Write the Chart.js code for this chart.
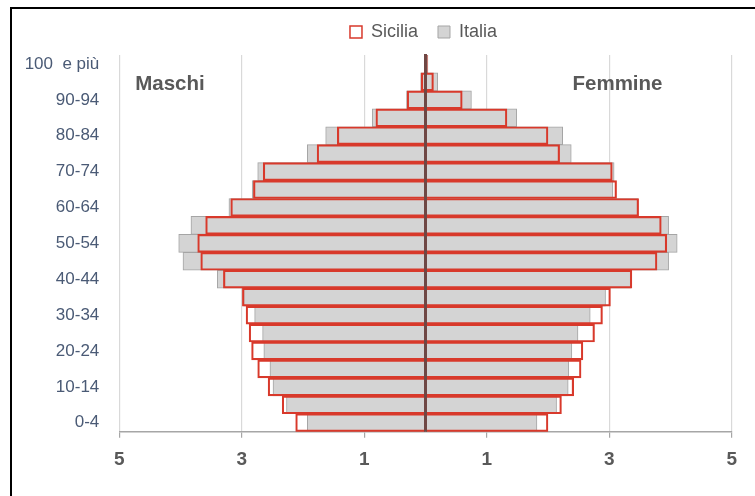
<!DOCTYPE html>
<html>
<head>
<meta charset="utf-8">
<script src="https://cdn.jsdelivr.net/npm/chart.js@4.4.1/dist/chart.umd.min.js"></script>
<style>
  html, body { margin: 0; padding: 0; background: #ffffff; overflow: hidden; }
  #wrap { position: relative; width: 755px; height: 496px; }
  #frame { position: absolute; left: 10px; top: 7px; width: 900px; height: 700px;
           border-left: 2.5px solid #000; border-top: 2px solid #000; pointer-events: none; }
  canvas { position: absolute; left: 0; top: 0; }
</style>
</head>
<body>
<div id="wrap">
  <canvas id="c" width="755" height="496"></canvas>
  <div id="frame"></div>
</div>
<script>
// Age classes, bottom to top
const ages = ['0-4','5-9','10-14','15-19','20-24','25-29','30-34','35-39','40-44','45-49',
              '50-54','55-59','60-64','65-69','70-74','75-79','80-84','85-89','90-94','95-99','100  e più'];

// Percent of population by class (magnitudes)
const siciliaMaschi  = [2.12,2.34,2.57,2.74,2.84,2.88,2.93,2.99,3.30,3.67,3.72,3.59,3.18,2.81,2.65,1.77,1.44,0.81,0.30,0.07,0.01];
const italiaMaschi   = [1.93,2.27,2.49,2.54,2.64,2.66,2.79,2.97,3.40,3.96,4.03,3.83,3.21,2.83,2.74,1.93,1.63,0.87,0.31,0.08,0.01];
const siciliaFemmine = [2.00,2.22,2.42,2.54,2.57,2.76,2.89,3.02,3.37,3.78,3.94,3.85,3.48,3.12,3.05,2.19,2.00,1.33,0.60,0.13,0.03];
const italiaFemmine  = [1.82,2.14,2.33,2.34,2.39,2.49,2.69,2.94,3.35,3.97,4.11,3.97,3.47,3.06,3.08,2.38,2.24,1.49,0.75,0.20,0.04];

const seriesNames = ['Sicilia', 'Italia'];
const sideLabels = ['Maschi', 'Femmine'];

const FONT = '"Liberation Sans", Arial, sans-serif';
const RED = '#d8392b';
const GREY_FILL = '#d4d4d4';
const GREY_BORDER = '#a5a5a5';

const neg = a => a.map(v => -v);

const centerLine = {
  id: 'centerLine',
  afterDatasetsDraw(chart) {
    const {ctx, chartArea, scales} = chart;
    const x = scales.x.getPixelForValue(0);
    ctx.save();
    ctx.strokeStyle = '#6f4744';
    ctx.lineWidth = 3;
    ctx.beginPath();
    ctx.moveTo(x, chartArea.top - 1);
    ctx.lineTo(x, chartArea.bottom);
    ctx.stroke();
    ctx.restore();
  }
};

const sideText = {
  id: 'sideText',
  afterDraw(chart) {
    const {ctx, scales} = chart;
    const y = scales.y.getPixelForValue(18.85);
    ctx.save();
    ctx.font = 'bold 20.5px ' + FONT;
    ctx.fillStyle = '#595959';
    ctx.textAlign = 'left';
    ctx.textBaseline = 'middle';
    ctx.fillText(sideLabels[0], scales.x.getPixelForValue(-4.74), y);
    ctx.fillText(sideLabels[1], scales.x.getPixelForValue(2.40), y);
    ctx.restore();
  }
};

const legendTweak = {
  id: 'legendTweak',
  beforeInit(chart) {
    const orig = chart.legend.fit;
    chart.legend.fit = function () {
      orig.bind(chart.legend)();
      this.height += 4;
    };
  },
  afterLayout(chart) {
    // centre the legend over the plot area
    const lg = chart.legend;
    const half = (chart.chartArea.right - chart.chartArea.left) / 2;
    const mid = (chart.chartArea.left + chart.chartArea.right) / 2 - 2;
    lg.left = mid - half;
    lg.right = mid + half;
  }
};

const isOdd = v => Math.abs(Math.round(v)) % 2 === 1;

new Chart(document.getElementById('c'), {
  type: 'bar',
  data: {
    labels: ages,
    datasets: [
      { label: seriesNames[0], data: neg(siciliaMaschi), backgroundColor: 'rgba(0,0,0,0)', borderColor: RED, borderWidth: 1.5 },
      { label: seriesNames[0], data: siciliaFemmine, backgroundColor: 'rgba(0,0,0,0)', borderColor: RED, borderWidth: 1.5 },
      { label: seriesNames[1], data: neg(italiaMaschi), backgroundColor: GREY_FILL, borderColor: GREY_BORDER, borderWidth: 1 },
      { label: seriesNames[1], data: italiaFemmine, backgroundColor: GREY_FILL, borderColor: GREY_BORDER, borderWidth: 1 }
    ]
  },
  options: {
    indexAxis: 'y',
    responsive: false,
    animation: false,
    devicePixelRatio: 1,
    grouped: false,
    barPercentage: 1,
    categoryPercentage: 1,
    layout: { padding: { top: 3, left: 12, right: 23.3, bottom: 0 } },
    plugins: {
      tooltip: { enabled: false },
      legend: {
        position: 'top',
        labels: {
          filter: (item) => item.datasetIndex === 0 || item.datasetIndex === 2,
          font: { family: FONT, size: 18 },
          color: '#595959',
          boxWidth: 12,
          boxHeight: 12,
          padding: 20
        }
      }
    },
    scales: {
      x: {
        type: 'linear',
        min: -5,
        max: 5,
        afterFit: (s) => { s.height = 64.3; },
        grid: {
          color: (ctx) => (ctx.tick && isOdd(ctx.tick.value)) ? '#d9d9d9' : 'rgba(0,0,0,0)',
          lineWidth: 1.2,
          tickColor: (ctx) => (ctx.tick && isOdd(ctx.tick.value)) ? '#a6a6a6' : 'rgba(0,0,0,0)',
          tickLength: 6
        },
        border: { color: '#a6a6a6', width: 1.5 },
        ticks: {
          stepSize: 1,
          autoSkip: false,
          maxRotation: 0,
          padding: 11,
          color: '#595959',
          font: { family: FONT, size: 19, weight: 'bold' },
          callback: (v) => isOdd(v) ? String(Math.abs(v)) : ''
        }
      },
      y: {
        type: 'category',
        reverse: true,
        afterFit: (s) => { s.width = 107.3; },
        grid: { display: false, drawTicks: false },
        border: { display: false },
        ticks: {
          autoSkip: false,
          padding: 20,
          color: '#4a5a75',
          font: { family: FONT, size: 17 },
          callback: (val, idx) => idx % 2 === 0 ? ages[idx] : ''
        }
      }
    }
  },
  plugins: [centerLine, sideText, legendTweak]
});
</script>
</body>
</html>
